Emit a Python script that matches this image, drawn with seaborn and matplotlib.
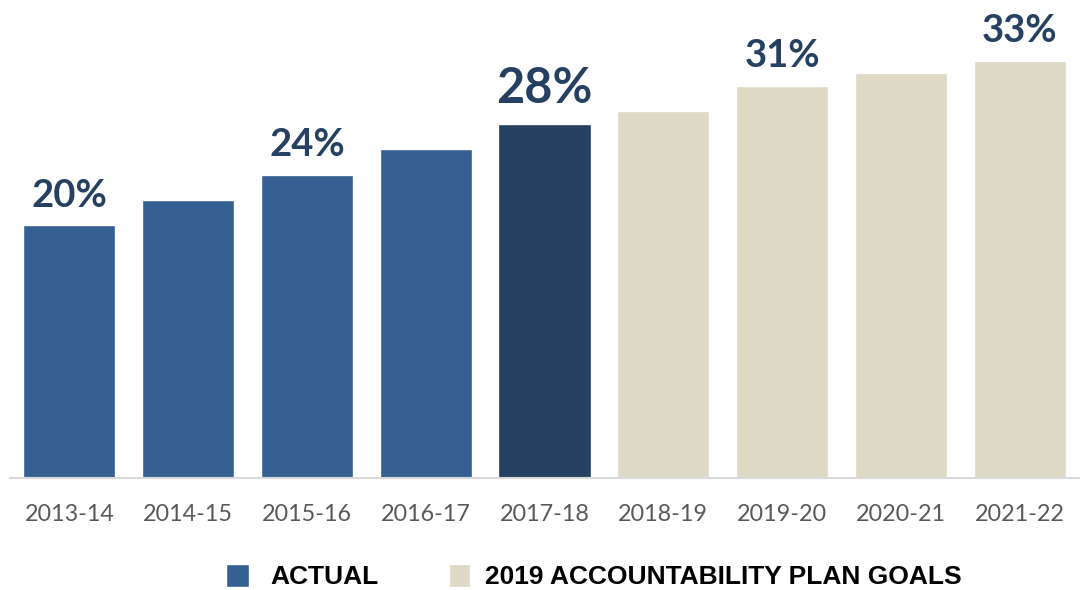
import matplotlib
matplotlib.use('Agg')
import matplotlib.pyplot as plt
from matplotlib.patches import Rectangle
import seaborn as sns

#chart data
years = ['2013-14', '2014-15', '2015-16', '2016-17', '2017-18',
         '2018-19', '2019-20', '2020-21', '2021-22']
values = [20, 22, 24, 26, 28, 29, 31, 32, 33]
kinds = ['actual', 'actual', 'actual', 'actual', 'latest',
         'goal', 'goal', 'goal', 'goal']
shown_labels = ['20%', '', '24%', '', '28%', '', '31%', '', '33%']
legend_names = ['ACTUAL', '2019 ACCOUNTABILITY PLAN GOALS']

kind_colors = {'actual': '#366092', 'latest': '#254061', 'goal': '#DDD9C4'}
bar_colors = [kind_colors[k] for k in kinds]

sns.set_style('white')
plt.rcParams['font.family'] = ['Lato', 'DejaVu Sans']

W, H = 1082, 590
fig = plt.figure(figsize=(W / 100, H / 100), dpi=100)
ax = fig.add_axes([10 / W, 1 - 478 / H, 1069 / W, 478 / H])

sns.barplot(x=years, y=values, hue=years, palette=bar_colors, legend=False,
            width=0.775, saturation=1, ax=ax)

ax.set_xlim(-0.5, 8.5)
ax.set_ylim(0, 37.8)

#value labels above some bars
for i, (v, lab) in enumerate(zip(values, shown_labels)):
    if not lab:
        continue
    big = (i == 4)
    ax.annotate(lab, (i, v), xytext=(0, 9), textcoords='offset points',
                ha='center', va='bottom', color='#254061', fontweight='bold',
                fontsize=35 if big else 27.5)

#axes styling
sns.despine(ax=ax, left=True)
ax.spines['bottom'].set_color('#D9D9D9')
ax.spines['bottom'].set_linewidth(1.5)
ax.set_yticks([])
ax.tick_params(axis='x', length=0, pad=19, labelsize=16.8, labelcolor='#595959')
ax.set_xlabel('')
ax.set_ylabel('')

#legend drawn by hand (pixel positions from the top left)
legend_items = [(226, 23, kind_colors['actual'], legend_names[0], 270),
                (449, 21, kind_colors['goal'], legend_names[1], 485)]
for x0, w, col, name, tx in legend_items:
    fig.patches.append(Rectangle((x0 / W, 1 - 587 / H), w / W, 23 / H,
                                 facecolor=col, transform=fig.transFigure))
    fig.text(tx / W, 1 - 577 / H, name, ha='left', va='center',
             family='Liberation Sans', fontweight='bold', fontsize=19,
             color='black')

fig.savefig('out.png', dpi=100, facecolor='white')
